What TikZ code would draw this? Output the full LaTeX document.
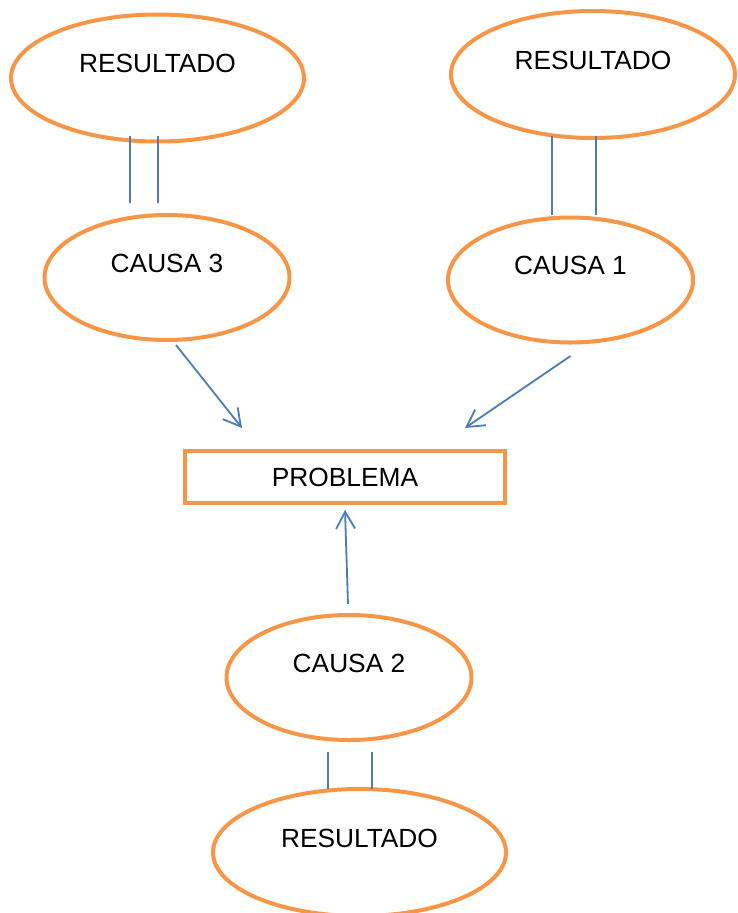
\documentclass[tikz,border=0pt]{standalone}
\usepackage{fontspec}
\setmainfont{Liberation Sans}
\usetikzlibrary{arrows.meta, positioning, shapes.geometric}
\definecolor{boxorange}{HTML}{F79646}
\definecolor{linkblue}{HTML}{4A7EBB}

\begin{document}
\begin{tikzpicture}[
    x=1pt, y=-1pt,
    cause/.style={ellipse, draw=boxorange, line width=4pt, outer sep=0pt, minimum width=245pt, minimum height=125pt, text height=19pt, text depth=30pt, font=\fontsize{26.3}{30}\selectfont},
    result/.style={cause, minimum width=293pt, minimum height=127pt},
    problem/.style={rectangle, draw=boxorange, line width=4pt, outer sep=0pt, minimum width=320pt, minimum height=52pt, font=\fontsize{26.3}{30}\selectfont},
    arrow/.style={-{Straight Barb[length=17pt, width=19pt]}, linkblue, line width=1.8pt},
    link/.style={linkblue, line width=1.8pt}
]
    \useasboundingbox (0,0) rectangle (737,913);

    % Problem
    \node[problem] (problema) at (345,477) {PROBLEMA};

    % Causes
    \node[cause, above=111pt of problema, xshift=-178pt] (causa3) {CAUSA 3};
    \node[cause, above=108.5pt of problema, xshift=225.5pt] (causa1) {CAUSA 1};
    \node[cause, below=112pt of problema, xshift=4pt] (causa2) {CAUSA 2};

    % Results
    \node[result, above=73.5pt of causa3, xshift=-9.5pt] (res3) {RESULTADO};
    \node[result, minimum width=284pt, above=79.5pt of causa1, xshift=22.5pt] (res1) {RESULTADO};
    \node[result, below=49pt of causa2, xshift=10.5pt] (res2) {RESULTADO};

    % Double links
    \foreach \dx in {-27.5,0.5}
        \draw[link, shorten <=-5.5pt, shorten >=12pt] ([xshift=\dx pt]res3.south) -- ([xshift=\dx pt]res3.south |- causa3.north);
    \foreach \dx in {-41,3}
        \draw[link, shorten <=-2pt, shorten >=3pt] ([xshift=\dx pt]res1.south) -- ([xshift=\dx pt]res1.south |- causa1.north);
    \foreach \dx in {-21,23}
        \draw[link, shorten <=12pt] ([xshift=\dx pt]causa2.south) -- ([xshift=\dx pt]causa2.south |- res2.north);

    % Arrows
    \draw[arrow] ([xshift=9pt, yshift=-5pt]causa3.south) -- ([xshift=-103pt, yshift=23pt]problema.north);
    \draw[arrow] ([yshift=-13.5pt]causa1.south) -- ([xshift=120pt, yshift=23pt]problema.north);
    \draw[arrow] ([xshift=-1pt, yshift=11pt]causa2.north) -- ([yshift=-7pt]problema.south);

\end{tikzpicture}
\end{document}
